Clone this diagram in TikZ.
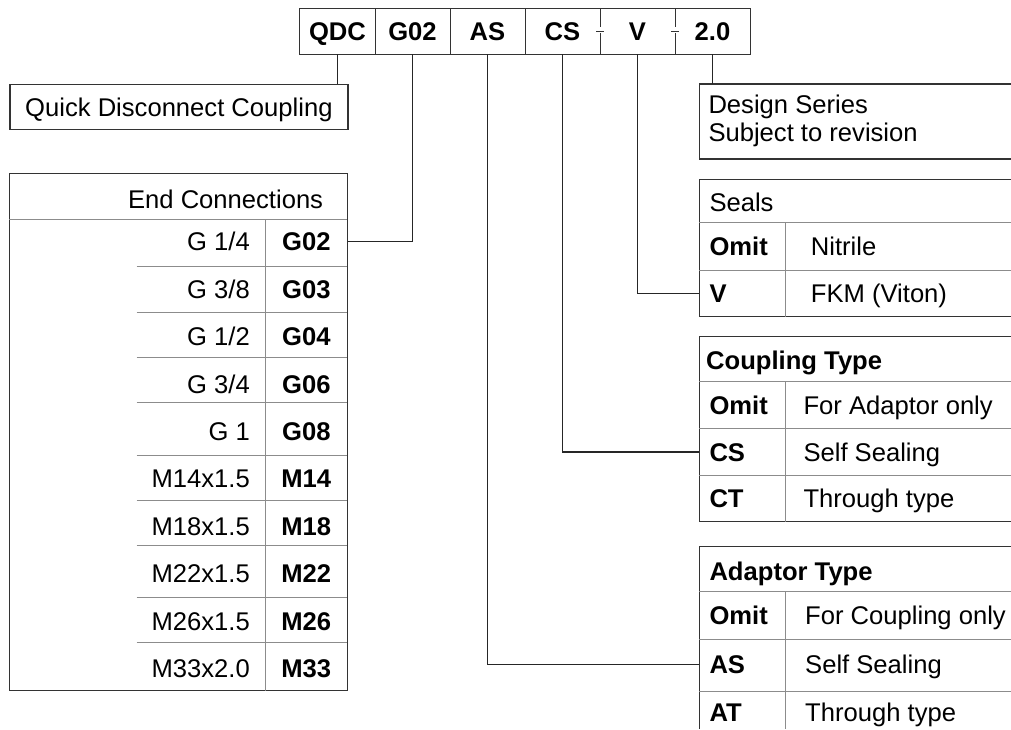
\documentclass[tikz,border=0pt]{standalone}
\usepackage{fontspec}
\setmainfont{Liberation Sans}
\begin{document}
\begin{tikzpicture}[x=1pt,y=-1pt,
	every node/.style={inner sep=0pt,text height=18.3pt,text depth=0pt,
	font=\fontsize{25.6}{28.5}\selectfont},
	boldtxt/.style={font=\fontsize{25.6}{28.5}\selectfont\bfseries},
	codecell/.style={boldtxt,minimum width=75pt,minimum height=45pt},
	keycell/.style={boldtxt,anchor=west,text width=66.4pt,align=left,inner xsep=10pt},
	frame/.style={draw=black!80,line width=1.2pt},
	grid/.style={draw=black!45,line width=1pt},
	link/.style={draw=black!85,line width=1.2pt}]
\useasboundingbox (0,0) rectangle (1011,729);

% order code
\foreach \t/\nm [count=\i] in {QDC/qdc,G02/g02,AS/as,CS/cs,V/v,2.0/ds}
	\node[codecell] (\nm) at (262.5+75*\i,31.5) {\t};
\draw[frame] (qdc.north west) rectangle (ds.south east);
\foreach \a in {qdc,g02,as}
	\draw[frame] (\a.north east) -- (\a.south east);
\foreach \a in {cs,v}
	\draw[frame] (\a.north east) -- ++(0,18) (\a.south east) -- ++(0,-21)
	(\a.east) ++(-4,0) -- ++(8,0);

% series name
\node[frame,anchor=north west,minimum width=338pt,minimum height=45pt] (qdcname)
	at (9.3,84) {Quick Disconnect Coupling};
\draw[link] (qdc.south) -- (qdc.south |- qdcname.north);

% design series
\coordinate (dstop) at (699.3,84);
\draw[frame] (1011,84) -- (dstop) -- (699.3,159) -- (1011,159);
\node[anchor=west] (dsline1) at (708.3,104.2) {Design Series};
\node[anchor=west] (dsline2) at (708.3,132.5) {Subject to revision};
\draw[link] (ds.south) -- (ds.south |- dstop);

% end connections
\draw[frame] (9.3,173.3) rectangle (347.3,690.7);
\draw[grid] (9.3,219.3) -- (347.3,219.3) (265,219.3) -- (265,690.7);
\foreach \y in {266,312.7,357.3,402.3,455,500,545.7,597.7,642.7}
	\draw[grid] (136.7,\y) -- (347.3,\y);
\node[anchor=east] (ectitle) at (323.3,199.3) {End Connections};
\foreach \s/\c [count=\i from 0] in {{G 1/4}/G02,{G 3/8}/G03,{G 1/2}/G04,{G 3/4}/G06,
	{G 1}/G08,M14x1.5/M14,M18x1.5/M18,M22x1.5/M22,M26x1.5/M26,M33x2.0/M33}{
	\node[anchor=east] (ecsize\i) at (250,241.7+47.4*\i) {\s};
	\node[boldtxt,minimum width=82.3pt] (ec\c) at (306.3,241.7+47.4*\i) {\c};
}
\draw[link] (g02.south) |- (ecG02.east);

% seals
\draw[frame] (1011,179.3) -- (699.3,179.3) -- (699.3,316.7) -- (1011,316.7);
\draw[grid] (699.3,222.7) -- (1011,222.7) (699.3,270) -- (1011,270)
	(785.7,222.7) -- (785.7,316.7);
\node[anchor=west] (sealtitle) at (709.3,202.5) {Seals};
\foreach \k/\d/\y in {Omit/Nitrile/246.3,V/{FKM (Viton)}/293.3}{
	\node[keycell] (seal\k) at (699.3,\y) {\k};
	\node[anchor=west] (seal\k txt) at (810.7,\y) {\d};
}
\draw[link] (v.south) |- (sealV.west);

% coupling type
\draw[frame] (1011,336.7) -- (699.3,336.7) -- (699.3,521.7) -- (1011,521.7);
\draw[grid] (699.3,381.7) -- (1011,381.7) (699.3,428.3) -- (1011,428.3)
	(699.3,475) -- (1011,475) (785.7,381.7) -- (785.7,521.7);
\node[boldtxt,anchor=west] (cpltitle) at (706,360) {Coupling Type};
\foreach \k/\d/\y in {Omit/{For Adaptor only}/405.5,CS/{Self Sealing}/452,CT/{Through type}/498.3}{
	\node[keycell] (cpl\k) at (699.3,\y) {\k};
	\node[anchor=west] (cpl\k txt) at (803.3,\y) {\d};
}
\draw[link] (cs.south) |- (cplCS.west);

% adaptor type
\draw[frame] (1011,546.7) -- (699.3,546.7) -- (699.3,729);
\draw[grid] (699.3,591.7) -- (1011,591.7) (699.3,639.3) -- (1011,639.3)
	(699.3,691.7) -- (1011,691.7) (785.7,591.7) -- (785.7,729);
\node[boldtxt,anchor=west] (adptitle) at (709.3,571) {Adaptor Type};
\foreach \k/\d/\y in {Omit/{For Coupling only}/615.3,AS/{Self Sealing}/664.5,AT/{Through type}/712}{
	\node[keycell] (adp\k) at (699.3,\y) {\k};
	\node[anchor=west] (adp\k txt) at (805,\y) {\d};
}
\draw[link] (as.south) |- (adpAS.west);
\end{tikzpicture}
\end{document}
